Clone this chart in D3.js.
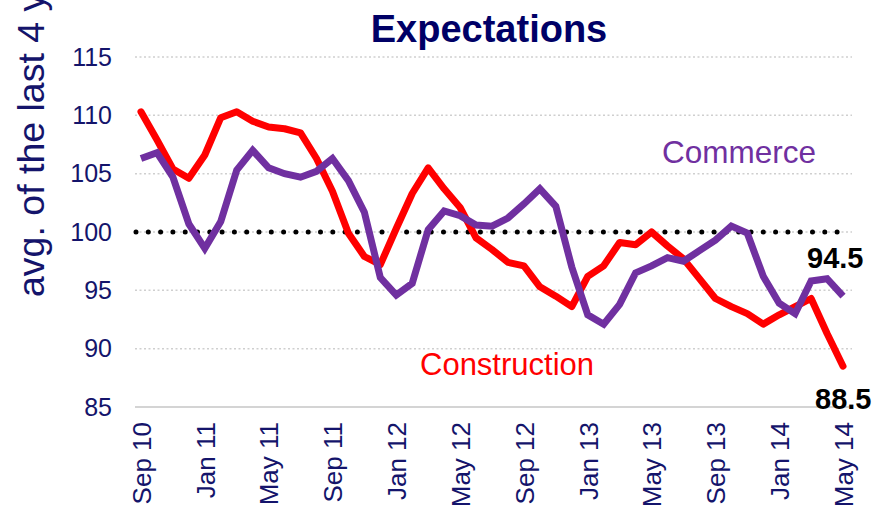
<!DOCTYPE html>
<html>
  <head>
    <meta charset="utf-8">
    <title>Expectations</title>
    <script src="https://d3js.org/d3.v7.min.js"></script>
    <style>
      body { margin: 0; background: #fff; font-family: "Liberation Sans", Arial, sans-serif; }
      svg { display: block; }
      .domain { display: none; }
    </style>
  </head>
  <body>
    <script>
    // months, Sep 10 .. May 14
    var months = ["Sep 10","Oct 10","Nov 10","Dec 10","Jan 11","Feb 11","Mar 11","Apr 11","May 11","Jun 11","Jul 11","Aug 11",
                  "Sep 11","Oct 11","Nov 11","Dec 11","Jan 12","Feb 12","Mar 12","Apr 12","May 12","Jun 12","Jul 12","Aug 12",
                  "Sep 12","Oct 12","Nov 12","Dec 12","Jan 13","Feb 13","Mar 13","Apr 13","May 13","Jun 13","Jul 13","Aug 13",
                  "Sep 13","Oct 13","Nov 13","Dec 13","Jan 14","Feb 14","Mar 14","Apr 14","May 14"]
    var tickMonths = ["Sep 10","Jan 11","May 11","Sep 11","Jan 12","May 12","Sep 12","Jan 13","May 13","Sep 13","Jan 14","May 14"]

    var construction = [110.3,107.9,105.4,104.6,106.6,109.8,110.3,109.5,109.0,108.85,108.5,106.3,
                        103.5,99.9,97.9,97.2,100.3,103.3,105.5,103.7,102.1,99.5,98.5,97.4,
                        97.1,95.3,94.5,93.6,96.2,97.1,99.1,98.9,100.0,98.8,97.7,96.0,
                        94.3,93.6,93.0,92.1,92.9,93.6,94.3,91.3,88.5]
    var commerce = [106.3,106.8,104.7,100.7,98.6,100.9,105.3,107.0,105.5,105.0,104.7,105.2,
                    106.3,104.4,101.7,96.1,94.6,95.6,100.2,101.8,101.4,100.6,100.5,101.2,
                    102.4,103.7,102.2,97.0,92.9,92.1,93.8,96.5,97.1,97.8,97.5,98.4,
                    99.3,100.5,99.9,96.2,93.9,93.0,95.8,96.0,94.5]
    var yTicks = [85, 90, 95, 100, 105, 110, 115]

    var W = 873, H = 511
    var plotLeft = 135, plotRight = 852, plotTop = 57, plotBottom = 407
    var navy = "#14146b"

    var svg = d3.select("body").append("svg")
                .attr("width", W)
                .attr("height", H)

    var x = d3.scalePoint()
              .domain(months)
              .range([plotLeft - 2, plotRight - 1])
              .padding(0.5)
    var y = d3.scaleLinear()
              .domain([85, 115])
              .range([plotBottom, plotTop])

    // gridlines (dotted grey)
    svg.append("g")
       .selectAll("line")
       .data(yTicks.filter(function(d){ return d > 85 }))
       .enter().append("line")
       .attr("x1", plotLeft).attr("x2", plotRight)
       .attr("y1", function(d){ return y(d) })
       .attr("y2", function(d){ return y(d) })
       .attr("stroke", "#cfcfcf")
       .attr("stroke-width", 1.5)
       .attr("stroke-dasharray", "2,2.5")

    // bottom baseline
    svg.append("line")
       .attr("x1", plotLeft).attr("x2", plotRight)
       .attr("y1", y(85)).attr("y2", y(85))
       .attr("stroke", "#d4d4d4")
       .attr("stroke-width", 2)

    // y axis labels
    var yAxis = d3.axisLeft(y).tickValues(yTicks).tickSize(0).tickPadding(0)
    var gy = svg.append("g")
       .attr("transform", "translate(112,0)")
       .call(yAxis)
    gy.selectAll("text")
      .attr("font-family", "Liberation Sans, Arial, sans-serif")
      .attr("font-size", "25px")
      .attr("fill", navy)

    // x axis labels, rotated
    var xAxis = d3.axisBottom(x).tickValues(tickMonths).tickSize(0)
    var gx = svg.append("g")
       .attr("transform", "translate(0," + plotBottom + ")")
       .call(xAxis)
    gx.selectAll("text")
      .attr("font-family", "Liberation Sans, Arial, sans-serif")
      .attr("font-size", "26px")
      .attr("fill", navy)
      .attr("text-anchor", "end")
      .attr("transform", "rotate(-90)")
      .attr("x", -15)
      .attr("y", 0)
      .attr("dy", "0.36em")

    // y axis title (cut off at top)
    svg.append("text")
       .attr("transform", "translate(44,297) rotate(-90)")
       .attr("font-family", "Liberation Sans, Arial, sans-serif")
       .attr("font-size", "37.5px")
       .attr("fill", navy)
       .text("avg. of the last 4 years = 100")

    // title
    svg.append("text")
       .attr("x", 489).attr("y", 42)
       .attr("text-anchor", "middle")
       .attr("font-family", "Liberation Sans, Arial, sans-serif")
       .attr("font-weight", "bold")
       .attr("font-size", "38px")
       .attr("fill", "#000066")
       .text("Expectations")

    // reference line at 100
    svg.append("line")
       .attr("x1", plotLeft + 1).attr("x2", plotRight - 4)
       .attr("y1", y(100)).attr("y2", y(100))
       .attr("stroke", "#000")
       .attr("stroke-width", 5)
       .attr("stroke-linecap", "round")
       .attr("stroke-dasharray", "0,12.3")

    var line = d3.line()
                 .x(function(d, i){ return x(months[i]) })
                 .y(function(d){ return y(d) })

    svg.append("path")
       .datum(construction)
       .attr("d", line)
       .attr("fill", "none")
       .attr("stroke", "#ff0000")
       .attr("stroke-width", 7)
       .attr("stroke-linejoin", "round")
       .attr("stroke-linecap", "round")

    svg.append("path")
       .datum(commerce)
       .attr("d", line)
       .attr("fill", "none")
       .attr("stroke", "#7030a0")
       .attr("stroke-width", 7)
       .attr("stroke-linejoin", "miter")

    // series labels
    svg.append("text")
       .attr("x", 662).attr("y", 163)
       .attr("font-family", "Liberation Sans, Arial, sans-serif")
       .attr("font-size", "31.5px")
       .attr("fill", "#7030a0")
       .text("Commerce")

    svg.append("text")
       .attr("x", 420).attr("y", 375)
       .attr("font-family", "Liberation Sans, Arial, sans-serif")
       .attr("font-size", "31px")
       .attr("fill", "#ff0000")
       .text("Construction")

    // end values
    var last = months[months.length - 1]
    svg.append("text")
       .attr("x", x(last) - 36)
       .attr("y", y(commerce[commerce.length - 1]) - 28)
       .attr("font-family", "Liberation Sans, Arial, sans-serif")
       .attr("font-weight", "bold")
       .attr("font-size", "29px")
       .attr("fill", "#000")
       .text(commerce[commerce.length - 1].toFixed(1))

    svg.append("text")
       .attr("x", x(last) - 28)
       .attr("y", y(construction[construction.length - 1]) + 43)
       .attr("font-family", "Liberation Sans, Arial, sans-serif")
       .attr("font-weight", "bold")
       .attr("font-size", "29px")
       .attr("fill", "#000")
       .text(construction[construction.length - 1].toFixed(1))
    </script>
  </body>
</html>
